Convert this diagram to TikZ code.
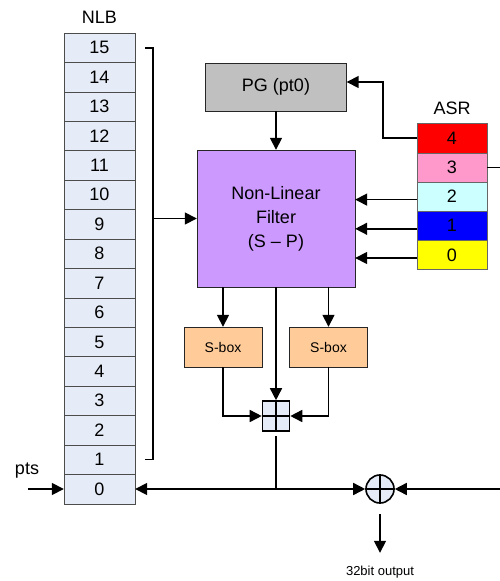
\documentclass[tikz,border=0pt]{standalone}
\usepackage{fontspec}
\setmainfont{Liberation Sans}
\usetikzlibrary{
  arrows.meta,
  positioning,
  calc
}
\definecolor{nlbFill}{HTML}{E6ECF7}
\definecolor{pgGray}{HTML}{C0C0C0}
\definecolor{nlfPurple}{HTML}{CC99FF}
\definecolor{sboxPeach}{HTML}{FFCC99}
\definecolor{asrRed}{HTML}{FF0000}
\definecolor{asrPink}{HTML}{FF99CC}
\definecolor{asrCyan}{HTML}{CCFFFF}
\definecolor{asrBlue}{HTML}{0000FF}
\definecolor{asrYellow}{HTML}{FFFF00}

\tikzset{
  nlbcell/.style={draw=black!70, fill=nlbFill, minimum width=71pt, minimum height=29.4pt, inner sep=0pt},
  asrcell/.style={draw=black!60, minimum width=70pt, minimum height=29.2pt, inner sep=0pt},
  blockbox/.style={draw=black!85, inner sep=0pt, align=center},
  wire/.style={line width=1.6pt},
  arr/.style={wire, -{Triangle[length=12pt, width=12pt]}}
}

\begin{document}
\begin{tikzpicture}[x=1pt, y=-1pt, font=\fontsize{18}{24}\selectfont]
  \useasboundingbox (0,0) rectangle (500,581);

  \foreach \i in {0,...,15}{
    \node[nlbcell] (n\i) at (99.5, 489-29.42*\i) {\i};
  }
  \node (nlb) at (99.5,17) {NLB};

  \foreach \i/\col in {0/asrYellow, 1/asrBlue, 2/asrCyan, 3/asrPink, 4/asrRed}{
    \node[asrcell, fill=\col] (a\i) at (452, 255-29.2*\i) {\i};
  }
  \node (asr) at (452,108) {ASR};

  \node[blockbox, fill=pgGray, minimum width=141pt, minimum height=48pt] (pg) at (276,87) {PG (pt0)};
  \node[blockbox, fill=nlfPurple, minimum width=158pt, minimum height=137pt] (nlf) at (276,218.5) {Non-Linear\\Filter\\(S -- P)};
  \node[blockbox, fill=sboxPeach, minimum width=78pt, minimum height=40pt, font=\fontsize{14}{16}\selectfont] (sb1) at (223,347) {S-box};
  \node[blockbox, fill=sboxPeach, minimum width=78pt, minimum height=40pt, font=\fontsize{14}{16}\selectfont] (sb2) at (328.5,347) {S-box};

  \node[draw, line width=1.6pt, fill=nlbFill, minimum width=27pt, minimum height=30pt, inner sep=0pt] (add) at (276,416) {};
  \draw[line width=1.6pt] (add.north) -- (add.south) (add.west) -- (add.east);
  \node[draw, circle, line width=1.6pt, fill=nlbFill, minimum size=28pt, inner sep=0pt] (xor) at (380,489) {};
  \draw[line width=1.6pt] (xor.north) -- (xor.south) (xor.west) -- (xor.east);

  \draw[wire] ($(n15.east)+(10,0)$) -- ++(8,0) |- ($(n1.east)+(10,0)$);
  \draw[arr] (nlf.west) ++(-43,0) -- (nlf.west);

  \draw[arr] (pg) -- (nlf);
  \draw[arr] (a4.west) -- ++(-34,0) |- ([yshift=5pt]pg.east);
  \draw[wire] (a3.east) -- ++(14,0);
  \foreach \i in {0,1,2}{
    \draw[arr] ([yshift=-3pt]a\i.west) -- ([yshift=-3pt]a\i.west -| nlf.east);
  }

  \draw[arr] (nlf.south -| sb1) -- (sb1);
  \draw[arr] (nlf.south -| sb2) -- (sb2);
  \draw[arr] (nlf) -- (add);
  \draw[arr] (sb1) |- (add);
  \draw[arr] (sb2) |- (add);

  \coordinate (jn) at (add |- n0);
  \draw[wire] ([yshift=-4pt]add.south) -- (jn);
  \draw[arr] (jn) -- (n0.east);
  \draw[arr] (jn) -- (xor.west);
  \draw[arr] (xor.east) ++(106,0) -- (xor.east);
  \draw[arr] ([yshift=-10pt]xor.south) -- ++(0,39);
  \node[font=\fontsize{13}{15}\selectfont] (out) at (380,572) {32bit output};

  \node (pts) at (27,471) {pts};
  \draw[arr] (n0.west) ++(-36,0) -- (n0.west);
\end{tikzpicture}
\end{document}
